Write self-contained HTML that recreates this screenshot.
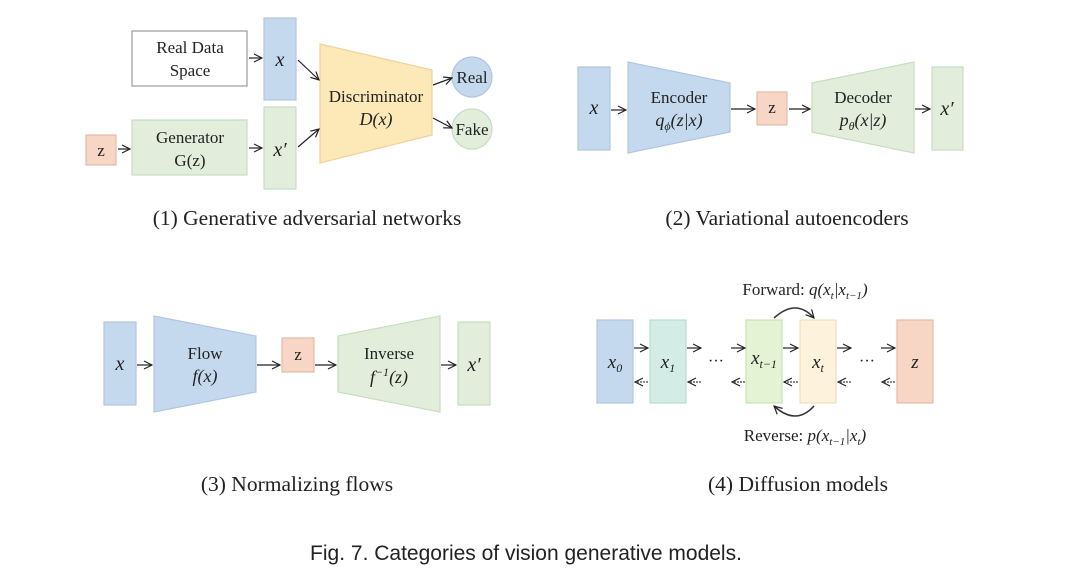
<!DOCTYPE html>
<html><head><meta charset="utf-8"><style>
html,body{margin:0;padding:0;background:#fff;}
svg{display:block;}
text{font-family:"Liberation Serif",serif;fill:#222;}
.i{font-style:italic;}
</style></head><body>
<svg width="1080" height="572" viewBox="0 0 1080 572" xmlns="http://www.w3.org/2000/svg">
<defs>
<marker id="a" markerWidth="10" markerHeight="10" refX="9" refY="5" orient="auto" markerUnits="userSpaceOnUse">
<path d="M1,1 L9,5 L1,9" fill="none" stroke="#222" stroke-width="1.2"/></marker>
</defs>
<g stroke-width="1.2">
<!-- GAN -->
<rect x="132" y="31" width="115" height="55" fill="#fff" stroke="#999"/>
<text x="190" y="53" font-size="17" text-anchor="middle">Real Data</text>
<text x="190" y="76" font-size="17" text-anchor="middle">Space</text>
<rect x="264" y="18" width="32" height="82" fill="#c5d9ee" stroke="#b0c6dd"/>
<text x="280" y="66" font-size="20" class="i" text-anchor="middle">x</text>
<rect x="264" y="107" width="32" height="82" fill="#e2eedb" stroke="#c9dcc0"/>
<text x="280" y="156" font-size="20" class="i" text-anchor="middle">x′</text>
<rect x="86" y="135" width="30" height="30" fill="#f7d6c6" stroke="#e6bca8"/>
<text x="101" y="156" font-size="17" text-anchor="middle">z</text>
<rect x="132" y="120" width="115" height="55" fill="#e2eedb" stroke="#c9dcc0"/>
<text x="190" y="143" font-size="17" text-anchor="middle">Generator</text>
<text x="190" y="166" font-size="17" text-anchor="middle">G(z)</text>
<polygon points="320,44 432,70 432,135 320,163" fill="#fde8b8" stroke="#ecd49a"/>
<text x="376" y="102" font-size="17" text-anchor="middle">Discriminator</text>
<text x="376" y="125" font-size="18" class="i" text-anchor="middle">D(x)</text>
<circle cx="472" cy="77" r="20" fill="#c5d9ee" stroke="#b0c6dd"/>
<text x="472" y="83" font-size="17" text-anchor="middle">Real</text>
<circle cx="472" cy="129" r="20" fill="#e2eedb" stroke="#c9dcc0"/>
<text x="472" y="135" font-size="17" text-anchor="middle">Fake</text>
<g stroke="#222" fill="none" marker-end="url(#a)">
<line x1="249" y1="58" x2="262" y2="58"/>
<line x1="118" y1="149" x2="130" y2="149"/>
<line x1="249" y1="148" x2="262" y2="148"/>
<line x1="298" y1="60" x2="319" y2="80"/>
<line x1="298" y1="147" x2="319" y2="129"/>
<line x1="433" y1="85" x2="452" y2="78"/>
<line x1="433" y1="118" x2="452" y2="128"/>
</g>
<text x="307" y="225" font-size="21.5" text-anchor="middle">(1) Generative adversarial networks</text>

<!-- VAE -->
<rect x="578" y="67" width="32" height="83" fill="#c5d9ee" stroke="#b0c6dd"/>
<text x="594" y="114" font-size="20" class="i" text-anchor="middle">x</text>
<polygon points="628,62 730,83 730,132 628,153" fill="#c5d9ee" stroke="#b0c6dd"/>
<text x="679" y="103" font-size="17" text-anchor="middle">Encoder</text>
<text x="679" y="126" font-size="18" class="i" text-anchor="middle">q<tspan font-size="12" dy="4">ϕ</tspan><tspan dy="-4">(z|x)</tspan></text>
<rect x="757" y="92" width="30" height="33" fill="#f7d6c6" stroke="#e6bca8"/>
<text x="772" y="113" font-size="17" text-anchor="middle">z</text>
<polygon points="812,83 914,62 914,153 812,132" fill="#e2eedb" stroke="#c9dcc0"/>
<text x="863" y="103" font-size="17" text-anchor="middle">Decoder</text>
<text x="863" y="126" font-size="18" class="i" text-anchor="middle">p<tspan font-size="12" dy="4">θ</tspan><tspan dy="-4">(x|z)</tspan></text>
<rect x="932" y="67" width="31" height="83" fill="#e2eedb" stroke="#c9dcc0"/>
<text x="947" y="115" font-size="20" class="i" text-anchor="middle">x′</text>
<g stroke="#222" fill="none" marker-end="url(#a)">
<line x1="611" y1="110" x2="626" y2="110"/>
<line x1="731" y1="109" x2="755" y2="109"/>
<line x1="789" y1="109" x2="810" y2="109"/>
<line x1="915" y1="109" x2="930" y2="109"/>
</g>
<text x="787" y="225" font-size="21.5" text-anchor="middle">(2) Variational autoencoders</text>

<!-- Flow -->
<rect x="104" y="322" width="32" height="83" fill="#c5d9ee" stroke="#b0c6dd"/>
<text x="120" y="370" font-size="20" class="i" text-anchor="middle">x</text>
<polygon points="154,316 256,336 256,392 154,412" fill="#c5d9ee" stroke="#b0c6dd"/>
<text x="205" y="359" font-size="17" text-anchor="middle">Flow</text>
<text x="205" y="382" font-size="18" class="i" text-anchor="middle">f(x)</text>
<rect x="282" y="338" width="32" height="34" fill="#f7d6c6" stroke="#e6bca8"/>
<text x="298" y="360" font-size="17" text-anchor="middle">z</text>
<polygon points="338,336 440,316 440,412 338,392" fill="#e2eedb" stroke="#c9dcc0"/>
<text x="389" y="359" font-size="17" text-anchor="middle">Inverse</text>
<text x="389" y="383" font-size="18" class="i" text-anchor="middle">f<tspan font-size="12" dy="-7">−1</tspan><tspan dy="7">(z)</tspan></text>
<rect x="458" y="322" width="32" height="83" fill="#e2eedb" stroke="#c9dcc0"/>
<text x="474" y="371" font-size="20" class="i" text-anchor="middle">x′</text>
<g stroke="#222" fill="none" marker-end="url(#a)">
<line x1="137" y1="365" x2="152" y2="365"/>
<line x1="257" y1="365" x2="280" y2="365"/>
<line x1="315" y1="365" x2="336" y2="365"/>
<line x1="441" y1="365" x2="456" y2="365"/>
</g>
<text x="297" y="491" font-size="21.5" text-anchor="middle">(3) Normalizing flows</text>

<!-- Diffusion -->
<rect x="597" y="320" width="36" height="83" fill="#c5d9ee" stroke="#b0c6dd"/>
<text x="615" y="368" font-size="19" class="i" text-anchor="middle">x<tspan font-size="12" dy="4">0</tspan></text>
<rect x="650" y="320" width="36" height="83" fill="#d3ede6" stroke="#b8dcd2"/>
<text x="668" y="368" font-size="19" class="i" text-anchor="middle">x<tspan font-size="12" dy="4">1</tspan></text>
<text x="716" y="366" font-size="16" text-anchor="middle">···</text>
<rect x="746" y="320" width="36" height="83" fill="#e3f3d3" stroke="#c9e3b4"/>
<text x="764" y="364" font-size="19" class="i" text-anchor="middle">x<tspan font-size="12" dy="4">t−1</tspan></text>
<rect x="800" y="320" width="36" height="83" fill="#fdf3dc" stroke="#ecdfbd"/>
<text x="818" y="368" font-size="19" class="i" text-anchor="middle">x<tspan font-size="12" dy="4">t</tspan></text>
<text x="867" y="366" font-size="16" text-anchor="middle">···</text>
<rect x="897" y="320" width="36" height="83" fill="#f7d6c6" stroke="#e6bca8"/>
<text x="915" y="368" font-size="19" class="i" text-anchor="middle">z</text>
<g stroke="#222" fill="none" marker-end="url(#a)">
<line x1="634" y1="348" x2="648" y2="348"/>
<line x1="687" y1="348" x2="701" y2="348"/>
<line x1="731" y1="348" x2="745" y2="348"/>
<line x1="783" y1="348" x2="798" y2="348"/>
<line x1="837" y1="348" x2="851" y2="348"/>
<line x1="881" y1="348" x2="895" y2="348"/>
</g>
<g stroke="#444" fill="none" stroke-dasharray="2,1" stroke-width="1.3" marker-end="url(#a)">
<line x1="648" y1="382" x2="635" y2="382"/>
<line x1="701" y1="382" x2="688" y2="382"/>
<line x1="745" y1="382" x2="732" y2="382"/>
<line x1="798" y1="382" x2="784" y2="382"/>
<line x1="851" y1="382" x2="838" y2="382"/>
<line x1="895" y1="382" x2="882" y2="382"/>
</g>
<path d="M774,318 Q796,298 814,318" fill="none" stroke="#333" stroke-width="1.6" marker-end="url(#a)"/>
<path d="M814,406 Q796,426 774,406" fill="none" stroke="#333" stroke-width="1.6" marker-end="url(#a)"/>
<text x="805" y="295" font-size="17" text-anchor="middle">Forward: <tspan class="i">q(x<tspan font-size="11" dy="4">t</tspan><tspan dy="-4">|x</tspan><tspan font-size="11" dy="4">t−1</tspan><tspan dy="-4">)</tspan></tspan></text>
<text x="805" y="441" font-size="17" text-anchor="middle">Reverse: <tspan class="i">p(x<tspan font-size="11" dy="4">t−1</tspan><tspan dy="-4">|x</tspan><tspan font-size="11" dy="4">t</tspan><tspan dy="-4">)</tspan></tspan></text>
<text x="798" y="491" font-size="21.5" text-anchor="middle">(4) Diffusion models</text>
</g>
<text x="526" y="560" font-size="21" text-anchor="middle" style="font-family:'Liberation Sans',sans-serif">Fig. 7.  Categories of vision generative models.</text>
</svg>
</body></html>
